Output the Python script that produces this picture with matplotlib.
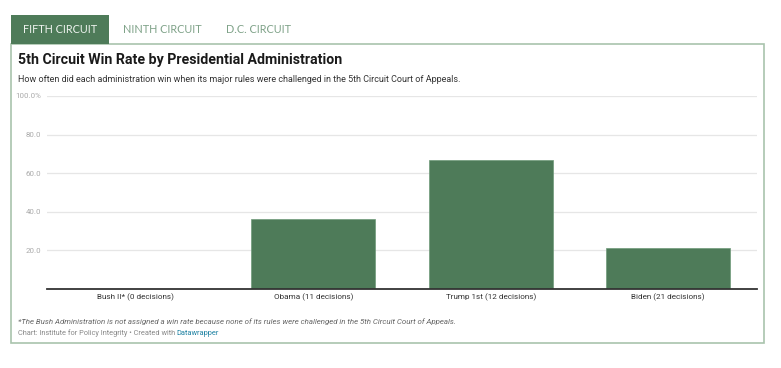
import matplotlib
matplotlib.use("Agg")
import matplotlib.pyplot as plt
from matplotlib.patches import Rectangle

categories = ["Bush II* (0 decisions)", "Obama (11 decisions)", "Trump 1st (12 decisions)", "Biden (21 decisions)"]
win_rates = [0.0, 36.4, 66.7, 21.1]
yticks = [20, 40, 60, 80, 100]
ytick_labels = ["20.0", "40.0", "60.0", "80.0", "100.0%"]
tabs = ["FIFTH CIRCUIT", "NINTH CIRCUIT", "D.C. CIRCUIT"]

W, H = 781, 368
fig = plt.figure(figsize=(W / 100, H / 100), dpi=100)
fig.patch.set_facecolor("white")

def fx(px):
    return px / W

def fy(py):
    return 1 - py / H

GREEN = "#4e7b59"
BORDER = "#a9c4ad"

# box border
fig.patches.append(Rectangle((fx(11), fy(343)), fx(764) - fx(11), fy(44) - fy(343),
                             transform=fig.transFigure, fill=False, edgecolor=BORDER, lw=1.2))
# active tab
fig.patches.append(Rectangle((fx(11), fy(44)), fx(109) - fx(11), fy(15) - fy(44),
                             transform=fig.transFigure, facecolor=GREEN, edgecolor=GREEN, lw=0))
fig.text(fx(60), fy(29.5), tabs[0], color="#eef3ef", fontsize=7.8, family="Lato", ha="center", va="center")
fig.text(fx(123), fy(29.5), tabs[1], color="#7fa288", fontsize=7.8, family="Lato", ha="left", va="center")
fig.text(fx(226), fy(29.5), tabs[2], color="#7fa288", fontsize=7.8, family="Lato", ha="left", va="center")

fig.text(fx(18), fy(60), "5th Circuit Win Rate by Presidential Administration", fontsize=10.2,
         fontweight="bold", family="Roboto", color="#1a1a1a", ha="left", va="center")
fig.text(fx(18), fy(79), "How often did each administration win when its major rules were challenged in the 5th Circuit Court of Appeals.",
         fontsize=6.5, family="Roboto", color="#333333", ha="left", va="center")
fig.text(fx(18), fy(322), "*The Bush Administration is not assigned a win rate because none of its rules were challenged in the 5th Circuit Court of Appeals.",
         fontsize=5.7, family="Roboto", style="italic", color="#666666", ha="left", va="center")
credit = fig.text(fx(18), fy(333.5), "Chart: Institute for Policy Integrity • Created with", fontsize=5.3, family="Roboto",
                  color="#888888", ha="left", va="center")
fig.canvas.draw()
bb = credit.get_window_extent(renderer=fig.canvas.get_renderer())
fig.text((bb.x1 + 1.5) / W, fy(333.5), "Datawrapper", fontsize=5.3, family="Roboto",
         color="#1d81a2", ha="left", va="center")

ax = fig.add_axes([fx(47), fy(289), fx(757) - fx(47), fy(96) - fy(289)])
x = list(range(len(categories)))
ax.bar(x, win_rates, width=0.70, color=GREEN, edgecolor="#6f9a7a", linewidth=0.5, zorder=2)
ax.set_xlim(-0.5, len(categories) - 0.5)
ax.set_ylim(0, 100)
ax.set_yticks(yticks)
ax.set_yticklabels(ytick_labels, family="Roboto", fontsize=5.7, color="#aaaaaa")
ax.tick_params(axis="y", length=0, pad=4)
ax.set_xticks(x)
ax.set_xticklabels(categories, family="Roboto", fontsize=5.9, color="#333333")
ax.tick_params(axis="x", length=0, pad=3)
for t in yticks:
    ax.axhline(t, color="#e6e6e6", lw=0.9, zorder=1)
for s in ["top", "right", "left"]:
    ax.spines[s].set_visible(False)
ax.spines["bottom"].set_color("#333333")
ax.spines["bottom"].set_linewidth(1.3)
ax.spines["bottom"].set_zorder(3)
ax.set_facecolor("none")

fig.savefig("out.png", dpi=100, facecolor="white")
